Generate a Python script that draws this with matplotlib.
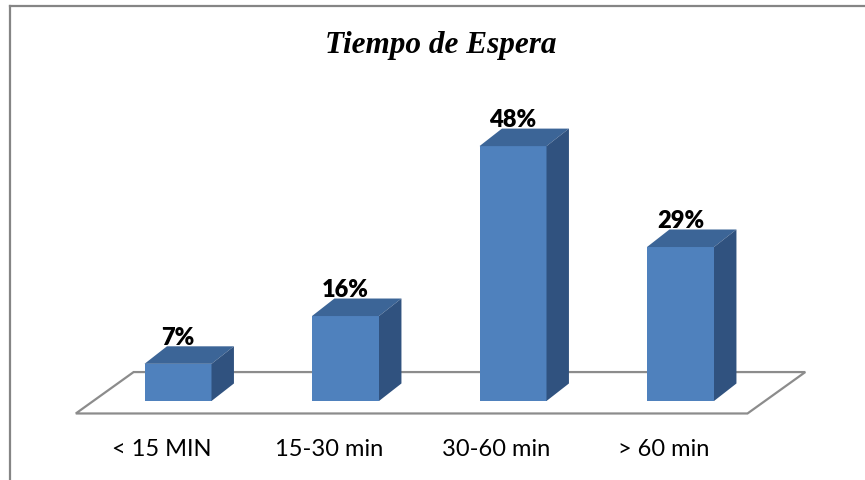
import matplotlib.pyplot as plt
from matplotlib.patches import Polygon
from matplotlib.lines import Line2D

# Data
categories = ['< 15 MIN', '15-30 min', '30-60 min', '> 60 min']
percentages = [7, 16, 48, 29]
title = 'Tiempo de Espera'

# Face colours of the 3D columns
FRONT = '#4F81BD'
TOP = '#3C6597'
SIDE = '#30527F'
GRID_GRAY = '#8C8C8C'

# Column geometry in data units (x: category index, y: percent)
bar_w = 0.40
depth_dx, depth_dy = 0.134, 3.3
floor_front_y = -2.35
floor_dx, floor_dy = 0.345, 7.8
floor_left, floor_right = -0.61, len(categories) - 1 + 0.40

fig = plt.figure(figsize=(8.65, 4.81), dpi=100)
ax = fig.add_axes([0, 0, 1, 1])
ax.set_xlim(-178 / 167.5, (865 - 178) / 167.5)
ax.set_ylim((402 - 481) / 5.31, 402 / 5.31)
ax.axis('off')

# Floor parallelogram
floor = Polygon([(floor_left, floor_front_y),
                 (floor_right, floor_front_y),
                 (floor_right + floor_dx, floor_front_y + floor_dy),
                 (floor_left + floor_dx, floor_front_y + floor_dy)],
                closed=True, facecolor='none', edgecolor=GRID_GRAY, lw=1.6, zorder=1)
ax.add_patch(floor)

for i, (cat, v) in enumerate(zip(categories, percentages)):
    x0, x1 = i - bar_w / 2, i + bar_w / 2
    front = Polygon([(x0, 0), (x1, 0), (x1, v), (x0, v)], closed=True,
                    facecolor=FRONT, edgecolor='none', zorder=3)
    top = Polygon([(x0, v), (x1, v), (x1 + depth_dx, v + depth_dy), (x0 + depth_dx, v + depth_dy)],
                  closed=True, facecolor=TOP, edgecolor='none', zorder=3)
    side = Polygon([(x1, 0), (x1 + depth_dx, depth_dy), (x1 + depth_dx, v + depth_dy), (x1, v)],
                   closed=True, facecolor=SIDE, edgecolor='none', zorder=3)
    for p in (front, top, side):
        ax.add_patch(p)
    ax.text(i, v + depth_dy + 0.4, f'{v}%', ha='center', va='baseline',
            fontsize=17, fontweight='heavy', family=['Lato', 'DejaVu Sans'], zorder=4)
    ax.text(i - 0.1, -9.0, cat, ha='center', va='center',
            fontsize=17, family=['Lato', 'DejaVu Sans'])

fig.text(441 / 865, 1 - 46 / 481, title, ha='center', va='center',
         fontsize=22.5, fontweight='bold', fontstyle='italic',
         family=['Liberation Serif', 'DejaVu Serif'])

# Outer frame (left and top edges)
fig.add_artist(Line2D([10 / 865, 10 / 865], [0, 1 - 7 / 481], transform=fig.transFigure,
                      color='#858585', lw=1.6))
fig.add_artist(Line2D([10 / 865, 1], [1 - 7 / 481, 1 - 7 / 481], transform=fig.transFigure,
                      color='#858585', lw=1.6))

fig.savefig('out.png', dpi=100)
